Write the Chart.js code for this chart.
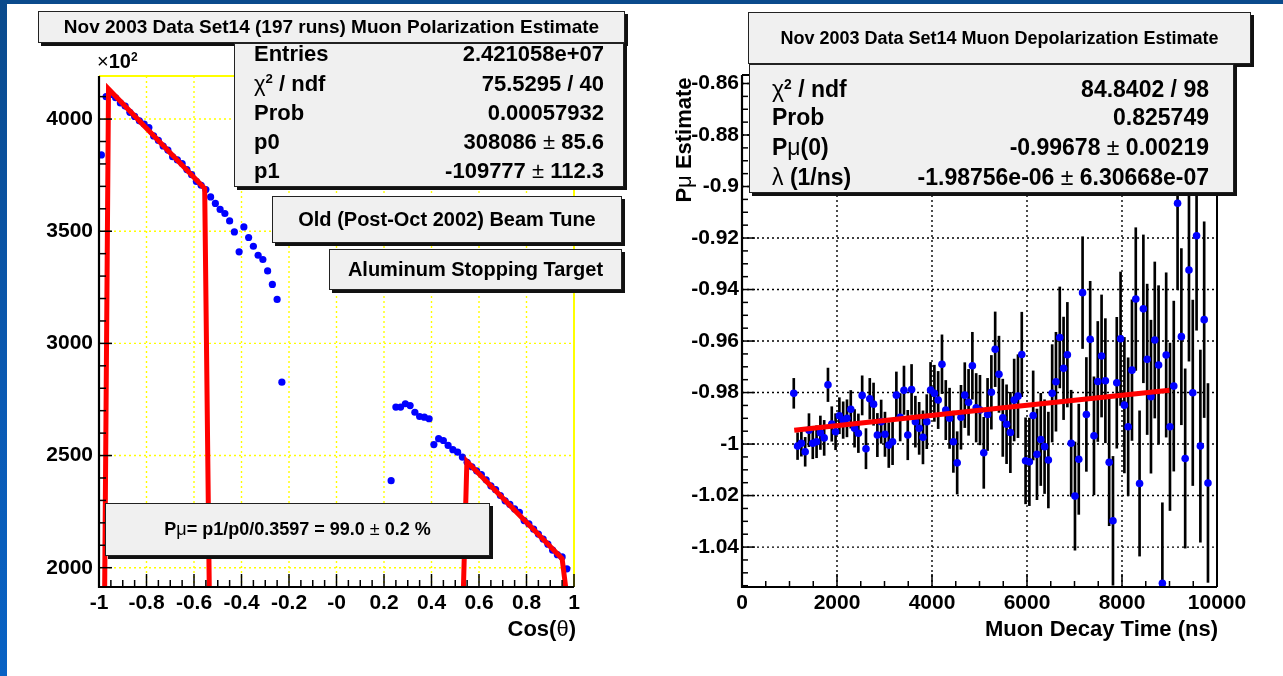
<!DOCTYPE html>
<html>
<head>
<meta charset="utf-8">
<script src="https://cdn.jsdelivr.net/npm/chart.js@4.4.1/dist/chart.umd.min.js"></script>
<style>
  html, body { margin:0; padding:0; background:#fff; }
  body { width:1283px; height:676px; position:relative; overflow:hidden;
         font-family:"Liberation Sans", Arial, Helvetica, sans-serif; font-weight:bold; color:#000; }
  canvas { position:absolute; left:0; top:0; }
  .strip-top { position:absolute; left:0; top:0; width:1283px; height:4px; background:#0a4a8c; }
  .strip-left { position:absolute; left:0; top:0; width:7px; height:676px;
                background:linear-gradient(#0a4a8c, #0a5ab4 60%, #0862c4); }
  .box { position:absolute; background:#f0f0f0; border:1px solid #222; box-sizing:border-box;
         box-shadow:3px 3px 0 #111; }
  .center { display:flex; align-items:center; justify-content:center; white-space:pre; }
  .row { position:absolute; height:28px; line-height:28px; display:flex; justify-content:space-between; white-space:pre; }
  .sym { font-weight:normal; }
  sup { font-size:60%; vertical-align:0; position:relative; top:-0.6em; }
  .txt { position:absolute; white-space:nowrap; }
</style>
</head>
<body>
<canvas id="left" width="1283" height="676"></canvas>
<canvas id="right" width="1283" height="676"></canvas>

<div class="strip-top"></div>
<div class="strip-left"></div>

<!-- Left panel texts -->
<div class="box center" style="left:38px;top:11px;width:587px;height:32px;font-size:19px;"><span>Nov 2003 Data Set14 (197 runs) Muon Polarization Estimate</span></div>
<div class="box" style="left:234px;top:43px;width:390px;height:144px;font-size:22px;">
  <div class="row" style="top:-4px;left:19px;right:19px;"><span>Entries</span><span>2.421058e+07</span></div>
  <div class="row" style="top:26px;left:19px;right:19px;"><span><span class="sym">χ</span><sup>2</sup> / ndf</span><span>75.5295 / 40</span></div>
  <div class="row" style="top:55px;left:19px;right:19px;"><span>Prob</span><span>0.00057932</span></div>
  <div class="row" style="top:84px;left:19px;right:19px;"><span>p0</span><span>308086<span class="sym"> ± </span>85.6</span></div>
  <div class="row" style="top:113px;left:19px;right:19px;"><span>p1</span><span>-109777<span class="sym"> ± </span>112.3</span></div>
</div>
<div class="box center" style="left:272px;top:196px;width:350px;height:47px;font-size:20px;"><span>Old (Post-Oct 2002) Beam Tune</span></div>
<div class="box center" style="left:329px;top:249px;width:293px;height:41px;font-size:20px;"><span>Aluminum Stopping Target</span></div>
<div class="box center" style="left:105px;top:503px;width:385px;height:53px;font-size:18px;"><span>P<span class="sym">μ</span>= p1/p0/0.3597 = 99.0<span class="sym"> ± </span>0.2 %</span></div>
<div class="txt" style="left:97px;top:50px;font-size:20px;"><span class="sym">×</span>10<sup>2</sup></div>
<div class="txt" style="right:707px;top:616px;font-size:22px;">Cos(<span class="sym">θ</span>)</div>

<!-- Right panel texts -->
<div class="box center" style="left:748px;top:12px;width:503px;height:52px;font-size:18px;"><span>Nov 2003 Data Set14 Muon Depolarization Estimate</span></div>
<div class="box" style="left:749px;top:64px;width:485px;height:129px;font-size:23px;">
  <div class="row" style="top:10px;left:22px;right:24px;"><span><span class="sym">χ</span><sup>2</sup> / ndf</span><span>84.8402 / 98</span></div>
  <div class="row" style="top:38px;left:22px;right:24px;"><span>Prob</span><span>0.825749</span></div>
  <div class="row" style="top:68px;left:22px;right:24px;"><span>P<span class="sym">μ</span>(0)</span><span>-0.99678<span class="sym"> ± </span>0.00219</span></div>
  <div class="row" style="top:98px;left:22px;right:24px;"><span><span class="sym">λ</span> (1/ns)</span><span>-1.98756e-06<span class="sym"> ± </span>6.30668e-07</span></div>
</div>
<div class="txt" style="left:620px;top:127px;width:128px;height:26px;line-height:26px;font-size:22px;text-align:center;transform:rotate(-90deg);">P<span class="sym">μ</span> Estimate</div>
<div class="txt" style="right:65px;top:616px;font-size:22px;">Muon Decay Time (ns)</div>

<script>
// ---------------- data: left panel (counts / 10^2 vs cos(theta)) ----------------
const leftX = [-0.99,-0.97,-0.95,-0.93,-0.91,-0.89,-0.87,-0.85,-0.83,-0.81,-0.79,-0.77,-0.75,-0.73,-0.71,-0.69,-0.67,-0.65,-0.63,-0.61,-0.59,-0.57,-0.55,-0.53,-0.51,-0.49,-0.47,-0.45,-0.43,-0.41,-0.39,-0.37,-0.35,-0.33,-0.31,-0.29,-0.27,-0.25,-0.23,
  0.23,0.25,0.27,0.29,0.31,0.33,0.35,0.37,0.39,0.41,0.43,0.45,0.47,0.49,0.51,0.53,0.55,0.57,0.59,0.61,0.63,0.65,0.67,0.69,0.71,0.73,0.75,0.77,0.79,0.81,0.83,0.85,0.87,0.89,0.91,0.93,0.95,0.97];
const leftY = [3840,4100,4110,4095,4072,4058,4030,4012,3992,3978,3962,3925,3905,3880,3862,3832,3818,3802,3775,3752,3722,3705,3686,3653,3624,3597,3579,3546,3497,3408,3519,3472,3433,3393,3374,3323,3263,3196,2827,
  2388,2716,2716,2731,2723,2693,2674,2671,2664,2549,2575,2567,2545,2526,2515,2493,2470,2450,2432,2415,2392,2365,2348,2322,2298,2282,2262,2247,2210,2195,2172,2150,2128,2105,2078,2058,2048,1995];
// fit curve vertices as drawn (drops to zero outside the fit ranges)
const leftFitX = [-0.99,-0.96,-0.555,-0.515,0.485,0.549,0.95,0.99];
const leftFitY = [0,4134,3690,0,0,2474,2040,1700];
const leftXTicks = [-1,-0.8,-0.6,-0.4,-0.2,0,0.2,0.4,0.6,0.8,1];
const leftXLabels = ['-1','-0.8','-0.6','-0.4','-0.2','-0','0.2','0.4','0.6','0.8','1'];
const leftYTicks = [2000,2500,3000,3500,4000];
const leftYLabels = ['2000','2500','3000','3500','4000'];

// ---------------- data: right panel (P_mu estimate vs decay time) ----------------
const rightX = [1090,1170,1250,1330,1410,1490,1570,1650,1730,1810,1890,1970,2050,2130,2210,2290,2370,2450,2530,2610,2690,2770,2850,2930,3010,3090,3170,3250,3330,3410,3490,3570,3650,3730,3810,3890,3970,4050,4130,4210,4290,4370,4450,4530,4610,4690,4770,4850,4930,5010,5090,5170,5250,5330,5410,5490,5570,5650,5730,5810,5890,5970,6050,6130,6210,6290,6370,6450,6530,6610,6690,6770,6850,6930,7010,7090,7170,7250,7330,7410,7490,7570,7650,7730,7810,7890,7970,8050,8130,8210,8290,8370,8450,8530,8610,8690,8770,8850,8930,9010,9090,9170,9250,9330,9410,9490,9570,9650,9730,9810];
const rightY = [-0.9803,-1.0008,-0.9997,-1.0030,-0.9946,-0.9997,-0.9991,-0.9956,-0.9976,-0.9770,
  -0.9922,-0.9952,-0.9890,-0.9907,-0.9900,-0.9865,-0.9939,-0.9958,-0.9811,-1.0018,
  -0.9824,-0.9845,-0.9965,-0.9913,-0.9962,-1.0004,-0.9991,-0.9810,-0.9896,-0.9791,
  -0.9965,-0.9788,-0.9913,-0.9939,-0.9974,-0.9913,-0.9790,-0.9803,-0.9829,-0.9690,
  -0.9868,-0.9900,-0.9991,-1.0073,-0.9896,-0.9810,-0.9838,-0.9696,-0.9859,-0.9868,
  -1.0034,-0.9885,-0.9799,-0.9632,-0.9729,-0.9898,-0.9923,-0.9955,-0.9829,-0.9814,
  -0.9652,-1.0065,-1.0069,-0.9889,-1.0040,-0.9982,-1.0010,-1.0062,-0.9803,-0.9758,
  -0.9586,-0.9706,-0.9653,-0.9997,-1.0202,-1.0059,-0.9412,-0.9885,-0.9593,-0.9968,
  -0.9757,-0.9658,-0.9754,-1.0071,-1.0298,-0.9762,-0.9591,-0.9849,-0.9933,-0.9713,
  -0.9437,-1.0153,-0.9475,-0.9671,-0.9816,-0.9596,-0.9693,-1.0541,-0.9654,-0.9933,
  -0.9775,-0.9065,-0.9583,-1.0056,-0.9324,-0.9801,-0.9191,-1.0008,-0.9517,-1.0151];
const rightErr = [0.0058,0.0052,0.0050,0.0056,0.0064,0.0060,0.0062,0.0065,0.0068,0.0065,
  0.0067,0.0070,0.0070,0.0071,0.0072,0.0073,0.0073,0.0075,0.0076,0.0078,
  0.0079,0.0082,0.0084,0.0084,0.0086,0.0087,0.0089,0.0090,0.0092,0.0094,
  0.0096,0.0097,0.0099,0.0101,0.0103,0.0105,0.0107,0.0109,0.0111,0.0114,
  0.0115,0.0117,0.0119,0.0121,0.0124,0.0126,0.0128,0.0130,0.0133,0.0135,
  0.0138,0.0140,0.0143,0.0145,0.0148,0.0150,0.0153,0.0156,0.0159,0.0161,
  0.0164,0.0167,0.0170,0.0173,0.0176,0.0179,0.0182,0.0186,0.0189,0.0192,
  0.0196,0.0199,0.0203,0.0206,0.0210,0.0214,0.0217,0.0221,0.0225,0.0229,
  0.0233,0.0237,0.0241,0.0246,0.0250,0.0254,0.0259,0.0263,0.0268,0.0273,
  0.0277,0.0282,0.0287,0.0292,0.0297,0.0303,0.0308,0.0313,0.0319,0.0325,
  0.0330,0.0336,0.0342,0.0348,0.0354,0.0360,0.0367,0.0373,0.0380,0.0386];
const rightFitX = [1100,5000,9000];
const rightFitY = [-0.9946,-0.9869,-0.9791];
const rightXTicks = [0,2000,4000,6000,8000,10000];
const rightXLabels = ['0','2000','4000','6000','8000','10000'];
const rightYTicks = [-1.04,-1.02,-1,-0.98,-0.96,-0.94,-0.92,-0.9,-0.88,-0.86];
const rightYLabels = ['-1.04','-1.02','-1','-0.98','-0.96','-0.94','-0.92','-0.9','-0.88','-0.86'];

// ---------------- rendering ----------------
Chart.defaults.font.family = "'Liberation Sans', Arial, Helvetica, sans-serif";
Chart.defaults.font.weight = 'bold';
Chart.defaults.font.size = 21;
Chart.defaults.color = '#000';

function range(start, stop, step) {
  const out = [];
  const n = Math.round((stop - start) / step);
  for (let i = 0; i <= n; i++) out.push(start + i * step);
  return out;
}

function framePlugin(cfg) {
  return {
    id: 'rootFrame',
    beforeDatasetsDraw(chart) {
      const {ctx, chartArea: a, scales: {x, y}} = chart;
      ctx.save();
      ctx.strokeStyle = cfg.gridColor; ctx.lineWidth = 1.4; ctx.setLineDash([2, 3]);
      cfg.xGrid.forEach(v => { const p = x.getPixelForValue(v); ctx.beginPath(); ctx.moveTo(p, a.top); ctx.lineTo(p, a.bottom); ctx.stroke(); });
      cfg.yGrid.forEach(v => { const p = y.getPixelForValue(v); ctx.beginPath(); ctx.moveTo(a.left, p); ctx.lineTo(a.right, p); ctx.stroke(); });
      ctx.setLineDash([]);
      ctx.strokeStyle = cfg.frameColor; ctx.lineWidth = 2;
      ctx.beginPath(); ctx.moveTo(a.left, a.top); ctx.lineTo(a.right, a.top); ctx.lineTo(a.right, a.bottom); ctx.stroke();
      ctx.restore();
    },
    afterDatasetsDraw(chart) {
      const {ctx, chartArea: a, scales: {x, y}} = chart;
      ctx.save();
      ctx.strokeStyle = '#000'; ctx.lineWidth = 1.5;
      const inRangeX = v => v >= x.min - 1e-9 && v <= x.max + 1e-9;
      const inRangeY = v => v >= y.min - 1e-9 && v <= y.max + 1e-9;
      cfg.xMinor.filter(inRangeX).forEach(v => {
        const p = x.getPixelForValue(v);
        const L = cfg.xMajor.some(m => Math.abs(m - v) < 1e-6) ? cfg.majorLen : cfg.minorLen;
        ctx.beginPath(); ctx.moveTo(p, a.bottom); ctx.lineTo(p, a.bottom - L); ctx.stroke();
      });
      cfg.yMinor.filter(inRangeY).forEach(v => {
        const p = y.getPixelForValue(v);
        const L = cfg.yMajor.some(m => Math.abs(m - v) < 1e-6) ? cfg.majorLen : cfg.minorLen;
        ctx.beginPath(); ctx.moveTo(a.left, p); ctx.lineTo(a.left + L, p); ctx.stroke();
      });
      ctx.lineWidth = 2.2;
      ctx.beginPath(); ctx.moveTo(a.left, a.top); ctx.lineTo(a.left, a.bottom); ctx.lineTo(a.right, a.bottom); ctx.stroke();
      ctx.restore();
    }
  };
}

function axisX(min, max, ticks, labels) {
  return {
    type: 'linear', min, max, offset: false,
    grid: { display: false, drawTicks: false }, border: { display: false },
    afterBuildTicks: s => { s.ticks = ticks.map(v => ({ value: v })); },
    afterFit: s => { s.height = 89; },
    ticks: { autoSkip: false, maxRotation: 0, minRotation: 0, padding: 4, includeBounds: false,
             callback: (v, i) => labels[i] }
  };
}
function axisY(min, max, ticks, labels, width, pad) {
  return {
    type: 'linear', min, max,
    grid: { display: false, drawTicks: false }, border: { display: false },
    afterBuildTicks: s => { s.ticks = ticks.map(v => ({ value: v })); },
    afterFit: s => { s.width = width; },
    ticks: { autoSkip: false, padding: pad, includeBounds: false, callback: (v, i) => labels[i] }
  };
}

// Left chart: chart area x 99..574, y 76..587
new Chart(document.getElementById('left'), {
  type: 'scatter',
  data: {
    datasets: [
      { type: 'line', data: leftFitX.map((x, i) => ({ x, y: leftFitY[i] })), borderColor: '#ff0000',
        borderWidth: 5, pointRadius: 0, fill: false, tension: 0, order: 0, borderJoinStyle: 'miter' },
      { data: leftX.map((x, i) => ({ x, y: leftY[i] })), backgroundColor: '#0000ff', borderWidth: 0,
        pointRadius: 3.6, order: 1 }
    ]
  },
  options: {
    responsive: false, animation: false, devicePixelRatio: 1,
    layout: { padding: { left: 0, top: 76, right: 1283 - 574, bottom: 0 } },
    plugins: { legend: { display: false }, tooltip: { enabled: false } },
    scales: {
      x: axisX(-1, 1, leftXTicks, leftXLabels),
      y: axisY(1914, 4192, leftYTicks, leftYLabels, 99, 6)
    }
  },
  plugins: [framePlugin({
    gridColor: '#ffff00', frameColor: '#ffff00',
    xGrid: [-0.8, -0.6, -0.4, -0.2, 0, 0.2, 0.4, 0.6, 0.8], yGrid: leftYTicks,
    xMajor: leftXTicks, yMajor: leftYTicks,
    xMinor: range(-1, 1, 0.05), yMinor: range(1900, 4200, 100),
    majorLen: 13, minorLen: 7
  })]
});

// Right chart: chart area x 742..1217, y 75..587
new Chart(document.getElementById('right'), {
  type: 'scatter',
  data: {
    datasets: [
      { type: 'line', data: rightFitX.map((x, i) => ({ x, y: rightFitY[i] })), borderColor: '#ff0000',
        borderWidth: 5, pointRadius: 0, fill: false, tension: 0, order: 0 },
      { data: rightX.map((x, i) => ({ x, y: rightY[i] })), backgroundColor: '#0000ff', borderWidth: 0,
        pointRadius: 3.8, order: 1 },
      { type: 'bar', data: rightX.map((x, i) => ({ x, y: [rightY[i] - rightErr[i], rightY[i] + rightErr[i]] })),
        backgroundColor: '#000', barThickness: 2, borderWidth: 0, order: 2 }
    ]
  },
  options: {
    responsive: false, animation: false, devicePixelRatio: 1,
    layout: { padding: { left: 742 - 100, top: 75, right: 1283 - 1217, bottom: 0 } },
    plugins: { legend: { display: false }, tooltip: { enabled: false } },
    scales: {
      x: axisX(0, 10000, rightXTicks, rightXLabels),
      y: axisY(-1.0555, -0.8567, rightYTicks, rightYLabels, 100, 3)
    }
  },
  plugins: [framePlugin({
    gridColor: '#000', frameColor: '#000',
    xGrid: [2000, 4000, 6000, 8000], yGrid: rightYTicks,
    xMajor: rightXTicks, yMajor: rightYTicks,
    xMinor: range(0, 10000, 500), yMinor: range(-1.055, -0.86, 0.005),
    majorLen: 13, minorLen: 6
  })]
});
</script>
</body>
</html>
